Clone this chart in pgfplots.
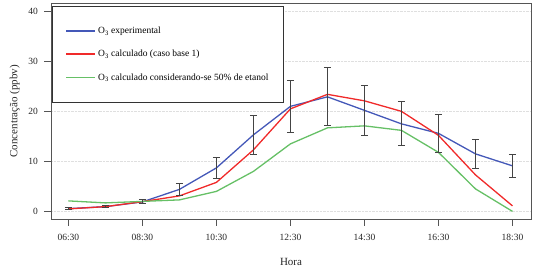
\documentclass[border=0pt]{standalone}
\usepackage{fontspec}
\setmainfont{Liberation Serif}
\usepackage{pgfplots}
\pgfplotsset{compat=1.18}
\definecolor{cblue}{HTML}{4458B8}
\definecolor{cred}{HTML}{F02A2A}
\definecolor{cgreen}{HTML}{66C066}
\definecolor{cbar}{HTML}{444444}
\definecolor{cframe}{HTML}{555555}
\begin{document}
\begin{tikzpicture}
\begin{axis}[
  at={(0pt,0pt)}, anchor=south west,
  scale only axis, width=480pt, height=215.7pt,
  xmin=-0.47, xmax=12.5, ymin=-1.52, ymax=41.6,
  xtick={0,2,4,6,8,10,12},
  xticklabels={06:30,08:30,10:30,12:30,14:30,16:30,18:30},
  ytick={0,10,20,30,40},
  tick pos=left, tick align=outside, major tick length=6.5pt,
  axis line style={cframe, line width=0.9pt},
  tick style={cframe, line width=0.8pt},
  ymajorgrids, grid style={densely dotted, gray!25, line width=0.6pt},
  /pgf/number format/assume math mode=true,
  ticklabel style={font=\fontsize{9.5}{10}\selectfont, text=black!85},
  xticklabel style={yshift=-5pt},
  yticklabel style={xshift=-3pt},
  xlabel={Hora}, ylabel={Concentração (ppbv)},
  xlabel style={yshift=-11pt},
  ylabel style={yshift=2pt},
  label style={font=\fontsize{11}{12}\selectfont, text=black!85},
  legend style={at={(axis description cs:0.003,0.988)}, anchor=north west,
    draw=black!80, line width=0.8pt, fill=white,
    font=\fontsize{9.5}{11}\selectfont,
    inner xsep=13pt, inner ysep=19pt, row sep=11pt,
    /tikz/every even column/.append style={column sep=16pt}},
  legend cell align=left,
  legend image code/.code={\draw[#1] (0pt,0.3pt) -- (29pt,0.3pt);},
]
\addplot[color=cblue, line width=1.3pt] coordinates {
(0,0.55) (1,0.95) (2,1.9) (3,4.4) (4,8.7) (5,15.3) (6,21.0) (7,22.9) (8,20.2) (9,17.5) (10,15.6) (11,11.5) (12,9.1)};
\addlegendentry{O\textsubscript{3} experimental}
\addplot[color=cred, line width=1.3pt] coordinates {
(0,0.5) (1,0.95) (2,1.95) (3,3.1) (4,5.8) (5,12.3) (6,20.5) (7,23.4) (8,22.1) (9,20.0) (10,15.2) (11,7.3) (12,1.1)};
\addlegendentry{O\textsubscript{3} calculado (caso base 1)}
\addplot[color=cgreen, line width=1.3pt] coordinates {
(0,2.1) (1,1.7) (2,2.0) (3,2.3) (4,4.0) (5,8.0) (6,13.5) (7,16.7) (8,17.1) (9,16.2) (10,11.8) (11,4.5) (12,0.0)};
\addlegendentry{O\textsubscript{3} calculado considerando-se 50\% de etanol}
\addplot[draw=none, forget plot,
  error bars/.cd, y dir=both, y explicit,
  error bar style={cbar, line width=0.9pt},
  error mark options={cbar, line width=0.9pt, rotate=90, mark size=3.5pt}]
  coordinates {
(0,0.55) +- (0,0.15) (1,0.95) +- (0,0.15) (2,1.9) +- (0,0.4) (3,4.4) +- (0,1.2)
(4,8.7) +- (0,2.1) (5,15.3) +- (0,3.85) (6,21.0) +- (0,5.2) (7,22.9) +- (0,5.8)
(8,20.2) +- (0,5.0) (9,17.5) +- (0,4.4) (10,15.6) +- (0,3.85) (11,11.5) +- (0,2.9) (12,9.1) +- (0,2.3)};
\end{axis}
\pgfresetboundingbox
\path[use as bounding box] (-51pt,-52pt) rectangle (487pt,219pt);
\end{tikzpicture}
\end{document}
